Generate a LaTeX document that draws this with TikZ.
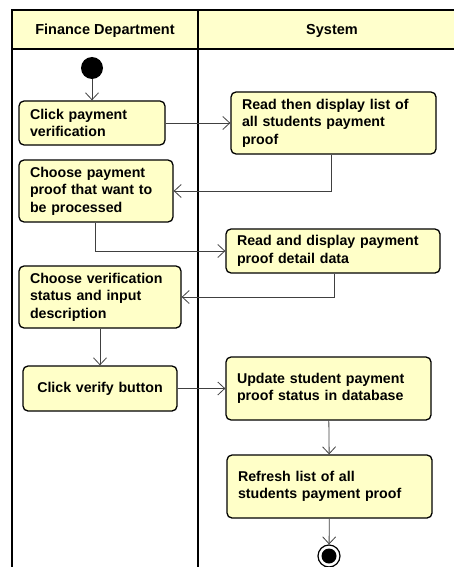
\documentclass[tikz,border=0pt]{standalone}
\usepackage{fontspec}
\setmainfont{Liberation Sans}
\usetikzlibrary{arrows.meta}
\definecolor{hdr}{HTML}{FFFFCC}
\definecolor{boxfill}{HTML}{FFFFC8}
\definecolor{flow}{HTML}{404040}
\begin{document}
\begin{tikzpicture}[x=1pt,y=-1pt,
  act/.style={draw=black, line width=1.3pt, rounded corners=5pt, fill=boxfill,
    inner xsep=11pt, inner ysep=0pt, align=left,
    font=\fontsize{14.2}{17.5}\selectfont\bfseries},
  flowline/.style={draw=flow, line width=0.8pt, -{Straight Barb[length=7pt,width=13pt,line width=0.8pt]}},
  lane/.style={draw=black, line width=1.5pt},
  hdrtext/.style={font=\fontsize{14.5}{17}\selectfont\bfseries}]
\useasboundingbox (0,0) rectangle (454,567);
% swimlanes
\fill[hdr] (12,10) rectangle (454,49);
\draw[lane] (454,10) -- (12,10) -- (12,567);
\draw[lane] (12,49) -- (454,49);
\draw[lane] (198,10) -- (198,567);
\node[hdrtext] (h1) at (105,31) {Finance Department};
\node[hdrtext] (h2) at (332,31) {System};
% nodes
\node[circle, fill=black, minimum size=22pt, inner sep=0pt] (A) at (92,68) {};
\node[act, minimum width=146pt, minimum height=44pt, text width=124pt] (B) at (92,123) {Click payment\\verification};
\node[act, minimum width=205pt, minimum height=62pt, text width=183pt] (C) at (333.5,123) {Read then display list of\\all students payment\\proof};
\node[act, minimum width=154pt, minimum height=62pt, text width=132pt] (D) at (96,191) {Choose payment\\proof that want to\\be processed};
\node[act, minimum width=214pt, minimum height=44pt, text width=192pt] (E) at (333,251) {Read and display payment\\proof detail data};
\node[act, minimum width=162pt, minimum height=62pt, text width=140pt] (F) at (100,297) {Choose verification\\status and input\\description};
\node[act, minimum width=154pt, minimum height=45pt, text width=132pt, align=center] (G) at (100,388.5) {Click verify button};
\node[act, minimum width=205pt, minimum height=63pt, text width=183pt] (H) at (328.5,388.5) {Update student payment\\proof status in database};
\node[act, minimum width=205pt, minimum height=63pt, text width=183pt] (I) at (329.5,486.5) {Refresh list of all\\students payment proof};
\node[circle, draw=black, line width=1.2pt, fill=white, minimum size=22pt, inner sep=0pt] (J) at (329,556) {};
\fill[black] (J.center) circle (7.5pt);
% connectors
\draw[flowline] (A) -- (B);
\draw[flowline] (B) -- (C);
\draw[flowline] ([xshift=-2pt]C.south) |- (D.east);
\draw[flowline] ([xshift=-1pt]D.south) |- (E.west);
\draw[flowline] ([xshift=1pt]E.south) |- (F.east);
\draw[flowline] (F) -- (G);
\draw[flowline] (G) -- (H);
\draw[flowline] (H) -- (I);
\draw[flowline] (I) -- (J);
\end{tikzpicture}
\end{document}
